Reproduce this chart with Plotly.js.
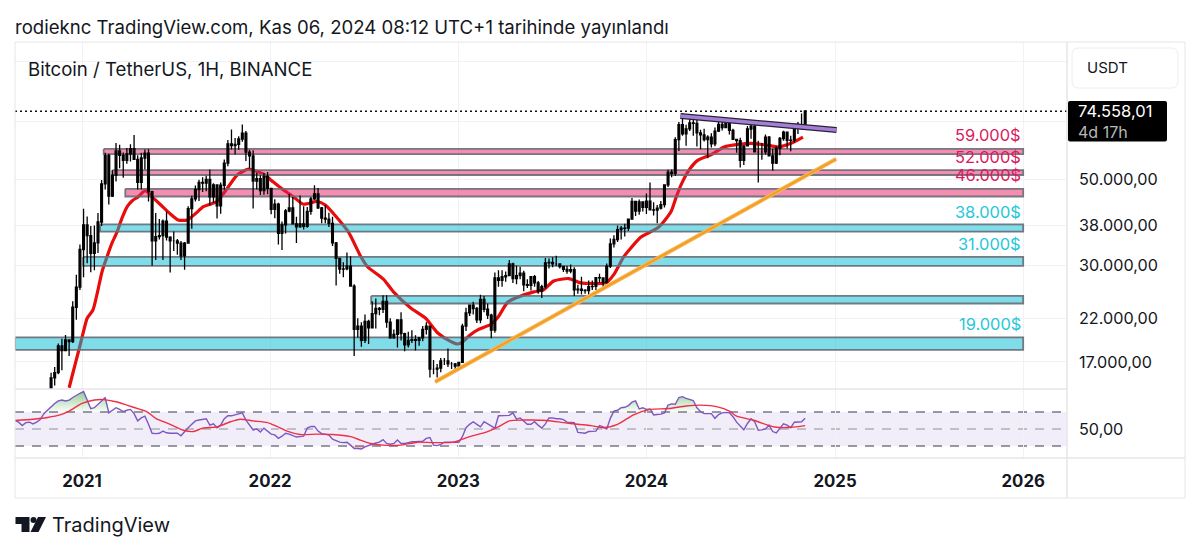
<!DOCTYPE html>
<html><head><meta charset="utf-8">
<script src="https://cdn.plot.ly/plotly-3.0.1.min.js"></script>
<style>html,body{margin:0;padding:0;background:#fff}#c{width:1200px;height:553px}</style>
</head><body><div id="c"></div>
<script>
// ---------- weekly candles, first bar 2020-10-26 ----------
const candleStart = '2020-10-26';
const firstOpen = 13031;
const closes = [13760,15480,15960,18680,18180,19360,19170,23470,26440,33000,38150,35790,32260,34290,38800,48580,57400,45200,51150,59000,57500,55800,58000,59770,56150,49000,56600,58200,46400,34700,35600,35800,39000,35500,34700,34700,34250,31800,34260,42000,44500,47000,49000,48800,49900,45000,48300,42700,48200,54900,61500,60900,61300,63300,65500,58600,57300,49400,50100,46700,50800,47300,
41800,43100,36300,38150,41400,42200,38400,37700,38400,37800,41300,44500,45800,42200,39700,39450,38500,34300,31300,29400,29450,29900,26600,20600,21000,19300,21600,20800,22600,23300,23200,24300,21500,19600,20000,21800,20100,18800,19300,19400,19300,19600,20600,21000,16300,16300,16400,17100,17100,16800,16800,16600,
16950,21000,22700,23750,23300,21800,24600,23200,22400,20500,27900,27500,28100,28300,30300,27800,28300,28700,26800,26700,28100,27100,25800,26500,30500,30600,30300,30300,29850,29350,29050,29300,26000,26100,25950,25900,26500,26550,27950,27900,27150,29900,34100,35000,37100,37400,37450,39450,43800,41400,43700,42300,
43900,41700,41600,42100,43000,48300,52100,51700,63100,68900,65300,67200,69600,69400,65600,64900,63100,64000,61500,66300,69000,67750,69300,66600,63200,62700,55800,60800,67150,68300,58700,58700,58700,64000,57300,54900,59900,63500,65900,62800,62900,69000,68000,68700,74558];
const highs = [14100,15960,16500,18950,19500,19920,19420,24300,28420,34000,41950,40100,37900,38000,40950,49700,58350,58000,52640,61840,61180,58500,60000,61400,64850,57500,58400,59500,59600,46650,40900,39500,39400,41300,35700,36700,35100,34700,34500,42600,45300,48150,49800,50500,51000,52900,48800,48300,49000,56100,62900,67000,63700,64300,69000,66400,59400,59200,51900,51100,51800,52100,
47500,44400,43500,38900,41900,45800,45000,40000,45400,42600,42400,45000,48200,47400,42400,42900,41000,40000,34500,31400,30600,32400,31700,26900,22000,21500,22500,21800,24300,24700,23500,25200,25200,22000,20600,21800,22800,20200,20300,20500,19900,19700,21000,21500,21000,17200,16800,17400,17400,18400,17000,16900,
17000,21300,23400,23800,24250,23500,25250,25100,24000,22600,28800,29200,29200,29000,31000,30500,30000,29800,29100,27700,28200,28400,27400,26800,31400,31300,31500,31800,30400,30000,30000,30200,29700,26800,28100,26100,27500,27500,28000,28600,28000,30400,35200,35900,38000,37900,38400,39000,44700,43400,44300,43800,
45900,48970,43600,42900,43900,48200,52800,52900,64000,69990,73800,68900,71800,71300,72800,66900,67300,64700,65500,67700,71950,71000,71900,70500,67300,62400,63800,59800,68400,69400,70000,62700,61800,65000,64400,59800,60700,64100,66500,66000,64500,69400,70000,73600,75100];
const lows = [12990,13200,14800,15800,16200,18100,17600,19000,21800,26000,28000,30420,28850,29200,32300,37900,47000,43000,45000,49300,53250,50400,54700,55400,59000,47000,47000,52900,43800,30000,31000,35000,31000,34800,28800,32700,32000,31000,29300,34200,37300,43800,43950,46300,46500,42800,43400,39600,40750,46900,53900,59500,57800,59400,62300,55600,53200,42000,47000,45500,45600,45700,
40600,39650,34000,32900,36250,41100,39500,34300,37500,37100,37500,40500,44200,41900,38500,38500,37700,33700,26700,28600,28000,29200,26500,17600,19600,18600,19000,18900,20700,20700,22400,22700,20800,19500,19500,18500,19300,18100,18500,19000,18200,18700,19200,20000,15500,15800,15500,16000,16700,16500,16300,16300,
16500,17000,20400,22300,22500,21400,21350,22800,21900,19550,20200,26500,26500,27300,28200,27100,26900,27700,25800,26300,25900,26500,25400,24800,26200,29500,29700,29950,29500,28900,28600,28700,25100,25400,25300,25400,24900,26000,26000,27100,26500,27100,29600,33400,34500,35000,35600,36800,39400,40200,40500,41300,
40700,41500,40300,38500,41800,42300,47700,50500,50900,59000,64500,60800,66400,64500,60600,59600,62400,56500,60200,60700,66000,66600,67600,65000,63400,58400,53500,54300,60800,63400,61000,49000,56000,57800,57100,52500,54600,57500,62700,59900,58900,62000,65200,66800,66800];
const opens = [firstOpen].concat(closes.slice(0, -1));

// ---------- moving average on the price pane, in weeks from 2020-08-24 ----------
const weekZero = '2020-08-24';
const emaWeek = [15,16.1,17.5,18.9,20,21.6,22.8,24.1,25.5,26.9,28.3,29.7,31.1,32.5,34.1,36.1,38,40.2,43,45.2,47.7,50,52.2,56,58.8,61.6,64.7,68.8,71.6,74.1,77.2,79.9,83.8,86,88.3,92.4,95.8,97.7,102.1,104.9,109.6,113.8,117.1,120.7,122.7,124,126.3,128.5,131.8,133.8,136.6,139.3,143.8,146.5,149.3,153.5,156.8,160.4,163.8,166,168.7,170.7,173.5,178.5,181.8,183.2,184.6,186.8,189.3,192.9,196.5,200.4,204,208.7,211.5,215.1,218.4];
const emaPrice = [14600,16000,17950,20200,22000,23100,25500,28900,31600,34300,36600,39800,42500,44000,45000,46700,45000,43100,40750,39270,39270,40750,42500,43800,47300,51200,53000,51500,49100,47100,45000,43100,43800,42900,40750,36600,31700,29800,27700,25700,23400,22000,20200,19200,18900,19100,20000,20600,21200,22100,24200,24900,25700,26000,27400,27800,27100,27000,27100,28500,31600,33300,35500,37700,41200,44800,48300,52700,55900,57700,60400,61300,61700,61000,60400,61700,64000];

// ---------- RSI pane ----------
const rsi = [60,58,54,57.5,58,56,58,61,68,72,77,80,83,84,83,84,87,90,92,94,83,74,75,79,83,87,69,71.5,75,73,70.5,72,73,68,59.5,63,65,55.5,45,44.5,45,47.5,45.5,45,45,45,42,47,51.5,55.5,59.5,60.5,61.5,62,54.5,56,51.5,54.5,62,65.5,65.5,66.5,68,69,60.5,54,49,50,46.5,51,47,44,43,39,41.5,45,44,42,40.5,41,41.5,51,53,53,47.5,44.5,44,43,38,36,34.5,34,34.5,31,27,27,26.5,29,30.5,32.5,33.5,34.5,37.5,33,32,33,37,33,33,
34,35,35,35,35.5,39,40,31,30.5,32,34.5,34.5,34.5,34.5,34.5,41,51.5,55.5,58.5,55.5,52.5,58.5,56,53,51,65.5,65.5,65.5,66,69,61.5,63,59.5,55.5,55.5,58.5,54.5,51,56,63,63,62,62,61,58,58,57.5,46,45.5,45,47,47.5,47.5,54,52.5,50,62.5,71,72,75,75.5,77.5,81.5,83,73.5,75,73,73.5,66.5,67,67.5,69,78,79.5,79,87,88,86,85,83.5,75,70.5,68,68,68,62.5,67,69,69.5,69,64.5,58,53,49,56.5,62,58.5,48.5,49,50,54.5,47,45.5,51.5,56,54.5,51.5,58,58.5,58.5,62.5];
const rsiMaWeek = [0,5,9,12.5,15,18.6,22,24.5,28,31,34.7,36.5,39,43,46.7,49.5,52,56,59.7,62.4,66,70,72.6,75.4,79,83.7,88,93,95.7,98.5,102,107,111.5,116,121.6,126,131,134.6,137,141,147.5,152,156,159.6,163,167,171.6,176,181,186,190,194.7,198,200,205,208.6,211,215,219];
const rsiMa = [60,61.5,63.5,66.5,71,80,84,84.5,82,78,73,70.5,62.5,55.5,48.5,47,51,52.5,58.5,61.5,59.5,57.5,53,47.5,43.5,44,43.5,41,37,33,31,31,34.5,34,34.5,41,47,54,59.5,60.5,60,57.5,55.5,54,51.5,55.5,67,73,74,77,78,76,71,65,60,54.5,52,52,54];
const rsiLevels = [30,50,70];

// ---------- drawings ----------
const zoneNames  = ['z59','z52','z46','z38','z31','z25','z19'];
const zoneStart  = ['2021-02-12','2021-03-01','2021-03-26','2021-02-05','2021-01-03','2022-07-16','2020-08-24'];
const zoneEnd    = '2026-01-01';
const zoneHigh   = [59700,52700,47200,38250,31580,25100,19660];
const zoneLow    = [57900,51200,45100,36650,29970,24000,18250];
const zoneKind   = ['p','p','p','c','c','c','c'];
const zoneText   = ['59.000$','52.000$','46.000$','38.000$','31.000$','19.000$'];
const zoneTextP  = [64800,56900,51200,41170,34080,21270];
const trendDates = ['2022-11-17','2025-01-03'];
const trendPrice = [15110,56260];
const wedgeDates = ['2024-03-07','2025-01-04'];
const wedgePrice = [72500,66750];
const lastPrice  = 74558.01;
const yearTicks  = ['2021-01-01','2022-01-01','2023-01-01','2024-01-01','2025-01-01','2026-01-01'];
const yearLabels = ['2021','2022','2023','2024','2025','2026'];
const priceTicks = [17000,22000,30000,38000,50000,70000,100000];
const priceLabels= ['17.000,00','22.000,00','30.000,00','38.000,00','50.000,00','',''];

// ---------- helpers ----------
const L=15,R=1067,T=42,B=498;
const px=x=>(x-L)/(R-L), py=y=>1-(y-T)/(B-T);
const DAY=86400000;
const addDays=(d,n)=>new Date(Date.parse(d+'T00:00:00Z')+n*DAY).toISOString().slice(0,19).replace('T',' ');
const wk=w=>addDays(weekZero,w*7);
const FONT='Inter, "Noto Sans", sans-serif';
const GRID='#f2f2f4', FRAME='#e6e6ea';
const xRange=['2020-08-24','2026-03-27'];
const yRange=[Math.log10(14494),Math.log10(112170)];

const traces=[];
// moving average sits under the semi-transparent zones
traces.push({type:'scatter',mode:'lines',x:emaWeek.map(wk),y:emaPrice,line:{color:'#e80c0c',width:3.2,shape:'spline',smoothing:0.6},xaxis:'x',yaxis:'y',hoverinfo:'skip'});
zoneNames.forEach((n,i)=>{
  const fill=zoneKind[i]==='p'?'rgba(233,30,99,0.5)':'rgba(0,188,212,0.5)';
  traces.push({type:'scatter',mode:'lines',name:n,
    x:[zoneStart[i],zoneEnd,zoneEnd,zoneStart[i],zoneStart[i]],
    y:[zoneHigh[i],zoneHigh[i],zoneLow[i],zoneLow[i],zoneHigh[i]],
    fill:'toself',fillcolor:fill,line:{color:'rgba(105,108,118,0.9)',width:1.8},xaxis:'x',yaxis:'y',hoverinfo:'skip'});
});
// candles and trend lines on an overlay so they stay above the zones
traces.push({type:'candlestick',x:closes.map((c,i)=>addDays(candleStart,i*7)),open:opens,high:highs,low:lows,close:closes,
  increasing:{line:{color:'#000',width:1.3},fillcolor:'#000'},decreasing:{line:{color:'#000',width:1.3},fillcolor:'#000'},
  whiskerwidth:0,width:2.6*DAY,xaxis:'x3',yaxis:'y3',hoverinfo:'skip'});
traces.push({type:'scatter',mode:'lines',x:trendDates,y:trendPrice,line:{color:'#f4b860',width:4.2},xaxis:'x3',yaxis:'y3',hoverinfo:'skip'});
traces.push({type:'scatter',mode:'lines',x:trendDates,y:trendPrice,line:{color:'#f59d1c',width:2},xaxis:'x3',yaxis:'y3',hoverinfo:'skip'});
traces.push({type:'scatter',mode:'lines',x:wedgeDates,y:wedgePrice,line:{color:'#2a2238',width:6},xaxis:'x3',yaxis:'y3',hoverinfo:'skip'});
traces.push({type:'scatter',mode:'lines',x:wedgeDates,y:wedgePrice,line:{color:'#a57fd6',width:3.4},xaxis:'x3',yaxis:'y3',hoverinfo:'skip'});

// RSI
const rsiX=rsi.map((v,i)=>wk(i));
traces.push({type:'scatter',mode:'lines',x:rsiX,y:rsi.map(()=>70),line:{width:0},xaxis:'x2',yaxis:'y2',hoverinfo:'skip'});
traces.push({type:'scatter',mode:'lines',x:rsiX,y:rsi.map(v=>Math.max(v,70)),line:{width:0},fill:'tonexty',
  fillgradient:{type:'vertical',colorscale:[[0,'rgba(76,175,80,0.02)'],[1,'rgba(76,175,80,0.6)']]},xaxis:'x2',yaxis:'y2',hoverinfo:'skip'});
traces.push({type:'scatter',mode:'lines',x:rsiX,y:rsi.map(()=>30),line:{width:0},xaxis:'x2',yaxis:'y2',hoverinfo:'skip'});
traces.push({type:'scatter',mode:'lines',x:rsiX,y:rsi.map(v=>Math.min(v,30)),line:{width:0},fill:'tonexty',fillcolor:'rgba(242,54,69,0.3)',xaxis:'x2',yaxis:'y2',hoverinfo:'skip'});
traces.push({type:'scatter',mode:'lines',x:rsiX,y:rsi,line:{color:'#7e57c2',width:1.4},xaxis:'x2',yaxis:'y2',hoverinfo:'skip'});
traces.push({type:'scatter',mode:'lines',x:rsiMaWeek.map(wk),y:rsiMa,line:{color:'#ee2f45',width:1.4,shape:'spline',smoothing:0.7},xaxis:'x2',yaxis:'y2',hoverinfo:'skip'});

const rr=(x0,y0,x1,y1,r)=>{
  const a=v=>px(v),b=v=>py(v);
  return `M ${a(x0+r)} ${b(y0)} L ${a(x1-r)} ${b(y0)} Q ${a(x1)} ${b(y0)} ${a(x1)} ${b(y0+r)} L ${a(x1)} ${b(y1-r)} Q ${a(x1)} ${b(y1)} ${a(x1-r)} ${b(y1)} L ${a(x0+r)} ${b(y1)} Q ${a(x0)} ${b(y1)} ${a(x0)} ${b(y1-r)} L ${a(x0)} ${b(y0+r)} Q ${a(x0)} ${b(y0)} ${a(x0+r)} ${b(y0)} Z`;
};
const poly=pts=>'M '+pts.map(p=>px(p[0])+' '+py(p[1])).join(' L ')+' Z';
const pline=(x0,y0,x1,y1,c,w)=>({type:'line',xref:'paper',yref:'paper',x0:px(x0),x1:px(x1),y0:py(y0),y1:py(y1),line:{color:c,width:w||1},layer:'above'});

const shapes=[
  {type:'rect',xref:'x2',yref:'y2',x0:xRange[0],x1:xRange[1],y0:30,y1:70,fillcolor:'rgba(126,87,194,0.1)',line:{width:0},layer:'below'},
  ...rsiLevels.map(v=>({type:'line',xref:'x2',yref:'y2',x0:xRange[0],x1:xRange[1],y0:v,y1:v,
    line:{color:v===50?'rgba(120,123,134,0.55)':'#787b86',width:1.4,dash:'9px,8px'},layer:'below'})),
  {type:'line',xref:'x',yref:'y',x0:xRange[0],x1:xRange[1],y0:lastPrice,y1:lastPrice,line:{color:'#111',width:1.4,dash:'2px,3px'},layer:'above'},
  // pane frame
  pline(L,T,1185,T,FRAME),pline(L,498,1185,498,FRAME),pline(L,T,L,498,FRAME),pline(1185,T,1185,498,FRAME),
  pline(L,389,R,389,FRAME,1.5),pline(L,458,1185,458,FRAME,1.5),pline(R,T,R,498,FRAME,1.5),
  // currency button
  {type:'path',xref:'paper',yref:'paper',path:rr(1072,48,1178,88,7),line:{color:'#eeeef1',width:1},fillcolor:'#fff',layer:'above'},
  // price tag
  {type:'path',xref:'paper',yref:'paper',path:rr(1068,101,1167,141.5,2),line:{width:0},fillcolor:'#000',layer:'above'},
  // TradingView mark
  {type:'path',xref:'paper',yref:'paper',path:poly([[15.5,517],[29.5,517],[29.5,532],[21.5,532],[21.5,524],[15.5,524]]),line:{width:0},fillcolor:'#131722',layer:'above'},
  {type:'circle',xref:'paper',yref:'paper',x0:px(30.5),x1:px(36.5),y0:py(517),y1:py(523),line:{width:0},fillcolor:'#131722',layer:'above'},
  {type:'path',xref:'paper',yref:'paper',path:poly([[38,517],[46,517],[38.5,532],[30.5,532]]),line:{width:0},fillcolor:'#131722',layer:'above'},
];

const txt=(x,y,text,size,color,anchor,extra)=>Object.assign({xref:'paper',yref:'paper',x:px(x),y:py(y),text,showarrow:false,xanchor:anchor||'left',yanchor:'middle',xshift:0,font:{family:FONT,size,color}},extra||{});
const annotations=[
  txt(13,27.5,'rodieknc TradingView.com, Kas 06, 2024 08:12 UTC+1 tarihinde yayınlandı',18.6,'#131722'),
  txt(26,69,'Bitcoin / TetherUS, 1H, BINANCE',18.6,'#131722'),
  txt(1085,68,'USDT',15,'#131722'),
  txt(1078,111,'74.558,01',16.5,'#fff','left',{borderpad:0,borderwidth:0}),
  txt(1078,131.5,'4d 17h',16,'#b8b8b8','left',{borderpad:0,borderwidth:0}),
  txt(50,525,'TradingView',20,'#131722'),
  ...zoneText.map((t,i)=>({xref:'x',yref:'y',x:zoneEnd,y:Math.log10(zoneTextP[i]),text:t,showarrow:false,xanchor:'right',yanchor:'middle',
    font:{family:FONT,size:16.4,color:i<3?'#d81b60':'#26c6da'}})),
];

const layout={
  width:1200,height:553,margin:{l:L,r:1200-R,t:T,b:553-B,pad:0},
  paper_bgcolor:'#fff',plot_bgcolor:'#fff',showlegend:false,hovermode:false,
  font:{family:FONT,color:'#131722'},
  xaxis:{type:'date',range:xRange,domain:[0,1],anchor:'y',showticklabels:false,ticks:'',tickmode:'array',tickvals:yearTicks,
    gridcolor:GRID,gridwidth:1,showgrid:true,zeroline:false,showline:false,rangeslider:{visible:false}},
  yaxis:{type:'log',range:yRange,domain:[py(389),py(T)],anchor:'x',side:'right',tickmode:'array',tickvals:priceTicks,ticktext:priceLabels,
    tickfont:{family:FONT,size:16.2,color:'#131722'},ticks:'',ticklabelstandoff:11,gridcolor:GRID,gridwidth:1,showline:false,zeroline:false},
  xaxis2:{type:'date',range:xRange,domain:[0,1],anchor:'y2',tickmode:'array',tickvals:yearTicks,ticktext:yearLabels.map(s=>'<b>'+s+'</b>'),
    tickfont:{family:FONT,size:16.8,color:'#131722'},ticks:'',ticklabelstandoff:11,gridcolor:GRID,gridwidth:1,showline:false,zeroline:false},
  yaxis2:{range:[15.9,97],domain:[py(458),py(389)],anchor:'x2',side:'right',tickmode:'array',tickvals:[50],ticktext:['50,00'],
    tickfont:{family:FONT,size:16.2,color:'#131722'},ticks:'',ticklabelstandoff:11,showgrid:false,showline:false,zeroline:false},
  xaxis3:{type:'date',range:xRange,overlaying:'x',anchor:'y3',visible:false,rangeslider:{visible:false}},
  yaxis3:{type:'log',range:yRange,domain:[py(389),py(T)],overlaying:'y',anchor:'x3',visible:false},
  shapes,annotations
};
Plotly.newPlot('c',traces,layout,{displayModeBar:false,staticPlot:true,responsive:false});
</script></body></html>
